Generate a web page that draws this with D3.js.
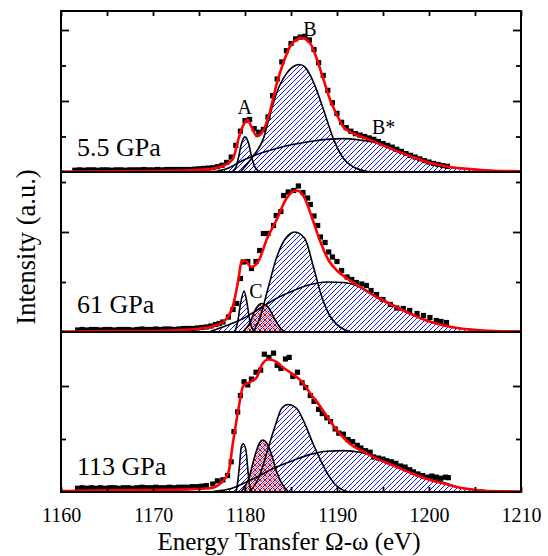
<!DOCTYPE html>
<html><head><meta charset="utf-8">
<script src="https://cdn.jsdelivr.net/npm/d3@7"></script>
<style>
html,body{margin:0;padding:0;background:#fff}
svg{display:block}
text{font-family:"Liberation Serif","Times New Roman",serif;fill:#000}
</style>
</head><body>
<svg id="chart" width="548" height="556"></svg>
<script>
// ---------------- data (energy eV, intensity a.u.) ----------------
const xDomain = [1160, 1210];
const xLabelTicks = [1160, 1170, 1180, 1190, 1200, 1210];
const xMinorTicks = [1165, 1175, 1185, 1195, 1205];
const panelNames = ["5.5 GPa", "61 GPa", "113 GPa"];

// 5.5 GPa
const data55 = [[1161.5,0.05],[1162,0.06],[1162.5,0.05],[1163,0.06],[1163.5,0.06],[1164,0.05],[1164.5,0.06],[1165,0.06],[1165.5,0.05],[1166,0.06],[1166.5,0.06],[1167,0.05],[1167.5,0.06],[1168,0.06],[1168.5,0.06],[1169,0.07],[1169.5,0.06],[1170,0.06],[1170.5,0.07],[1171,0.06],[1171.5,0.07],[1172,0.07],[1172.5,0.07],[1173,0.07],[1173.5,0.07],[1174,0.07],[1174.5,0.08],[1175,0.09],[1175.5,0.10],[1176,0.11],[1176.5,0.12],[1177,0.15],[1177.5,0.19],[1178,0.27],[1178.5,0.42],[1179,0.75],[1179.5,1.15],[1180,1.45],[1180.5,1.48],[1181,1.22],[1181.5,1.12],[1182,1.20],[1182.5,1.55],[1183,2.15],[1183.5,2.62],[1184,3.10],[1184.5,3.42],[1185,3.62],[1185.5,3.75],[1186,3.80],[1186.5,3.82],[1187,3.72],[1187.5,3.45],[1188,3.08],[1188.5,2.72],[1189,2.30],[1189.5,1.95],[1190,1.65],[1190.5,1.40],[1191,1.25],[1191.5,1.15],[1192,1.08],[1192.5,1.04],[1193,1.00],[1193.5,0.96],[1194,0.92],[1194.5,0.86],[1195,0.80],[1195.5,0.75],[1196,0.70],[1196.5,0.64],[1197,0.58],[1197.5,0.52],[1198,0.47],[1198.5,0.42],[1199,0.37],[1199.5,0.32],[1200,0.28],[1200.5,0.24],[1201,0.21],[1201.5,0.18],[1202,0.16]];
const fit55 = [[1160,0.01],[1165,0.02],[1170,0.03],[1174,0.05],[1176,0.08],[1177.6,0.17],[1178.7,0.38],[1179.3,0.94],[1179.8,1.31],[1180.3,1.46],[1180.7,1.27],[1181.3,1.01],[1182.0,1.17],[1182.7,1.69],[1183.4,2.44],[1184.2,3.10],[1185.1,3.62],[1186.2,3.77],[1187.1,3.62],[1187.8,3.19],[1188.5,2.63],[1189.2,2.07],[1190.0,1.60],[1190.7,1.27],[1191.8,1.08],[1193.2,0.94],[1195.0,0.75],[1196.8,0.56],[1198.7,0.38],[1200.5,0.23],[1202.3,0.14],[1204.5,0.08],[1206.6,0.04],[1210,0.02]];
const peakA55 = [[1178.5,0],[1179.0,0.12],[1179.3,0.42],[1179.6,0.78],[1180.0,0.99],[1180.4,0.80],[1180.7,0.45],[1181.0,0.18],[1181.4,0.04],[1181.8,0]];
const peakB55 = [[1179.5,0],[1179.8,0.09],[1180.9,0.45],[1182.0,0.94],[1182.7,1.60],[1183.4,2.20],[1184.5,2.77],[1185.3,2.98],[1185.9,3.03],[1186.5,2.96],[1187.1,2.72],[1187.8,2.30],[1188.5,1.78],[1189.1,1.31],[1189.6,0.94],[1190.7,0.38],[1191.8,0.14],[1193.2,0.02],[1194,0]];
const peakBs55 = [[1176.5,0],[1178.0,0.09],[1179.8,0.33],[1181.6,0.52],[1183.4,0.66],[1185.3,0.78],[1187.1,0.86],[1188.9,0.92],[1190.7,0.94],[1192.5,0.90],[1194.3,0.82],[1196.1,0.63],[1197.9,0.46],[1199.7,0.30],[1201.6,0.17],[1203.4,0.10],[1205.2,0.06],[1206.6,0.04],[1210,0.02]];

// 61 GPa
const data61 = [[1161.8,0.04],[1162.3,0.05],[1162.8,0.04],[1163.3,0.05],[1163.8,0.05],[1164.3,0.04],[1164.8,0.05],[1165.3,0.05],[1165.8,0.04],[1166.3,0.05],[1166.8,0.05],[1167.3,0.05],[1167.8,0.04],[1168.3,0.05],[1168.8,0.06],[1169.3,0.05],[1169.8,0.05],[1170.3,0.06],[1170.8,0.05],[1171.3,0.06],[1171.8,0.06],[1172.3,0.05],[1172.8,0.06],[1173.3,0.07],[1173.8,0.07],[1174.3,0.07],[1174.8,0.08],[1175.3,0.09],[1175.8,0.10],[1176.3,0.12],[1176.8,0.15],[1177.2,0.17],[1177.6,0.20],[1178.2,0.30],[1178.7,0.45],[1179.1,0.57],[1179.5,1.07],[1179.8,1.40],[1180.3,1.41],[1180.7,1.27],[1181.2,1.41],[1181.6,1.63],[1182.0,1.97],[1182.5,1.97],[1183.1,2.13],[1183.4,2.33],[1183.9,2.41],[1184.2,2.73],[1184.7,2.80],[1185.3,2.83],[1185.8,2.92],[1186.3,2.79],[1186.8,2.68],[1187.1,2.55],[1187.5,2.32],[1187.9,2.13],[1188.2,1.90],[1188.7,1.79],[1189.1,1.60],[1189.5,1.50],[1190.0,1.41],[1190.5,1.23],[1191.1,1.10],[1191.6,1.05],[1192.1,0.99],[1192.7,0.96],[1193.2,0.93],[1193.7,0.83],[1194.3,0.75],[1195.0,0.65],[1195.8,0.55],[1196.5,0.48],[1197.2,0.47],[1197.9,0.43],[1198.7,0.37],[1199.4,0.33],[1200.1,0.29],[1200.8,0.23],[1201.3,0.21],[1201.9,0.19]];
const fit61 = [[1160,0.01],[1165,0.02],[1170,0.02],[1174,0.05],[1176.2,0.10],[1177.6,0.20],[1178.7,0.53],[1179.3,1.07],[1179.6,1.39],[1180.0,1.43],[1180.7,1.30],[1181.5,1.43],[1182.4,1.87],[1183.4,2.23],[1184.5,2.67],[1185.6,2.83],[1186.5,2.67],[1187.2,2.33],[1188.2,1.80],[1189.1,1.43],[1190.0,1.23],[1191.1,1.07],[1192.5,0.90],[1194.3,0.70],[1196.1,0.53],[1197.9,0.37],[1199.7,0.23],[1201.6,0.13],[1203.4,0.07],[1205.9,0.03],[1210,0.01]];
const peakA61 = [[1178.9,0],[1179.2,0.20],[1179.5,0.55],[1179.9,0.82],[1180.2,0.60],[1180.5,0.25],[1180.8,0.06],[1181.1,0]];
const peakC61 = [[1179.8,0.01],[1180.5,0.17],[1181.2,0.47],[1181.8,0.57],[1182.5,0.50],[1183.2,0.27],[1183.9,0.07],[1184.4,0]];
const peakB61 = [[1180.9,0.01],[1181.6,0.27],[1182.5,0.87],[1183.4,1.47],[1184.4,1.87],[1185.4,2.00],[1186.5,1.87],[1187.4,1.33],[1188.3,0.73],[1189.2,0.33],[1190.3,0.10],[1191.4,0.01]];
const peakBs61 = [[1176.2,0.01],[1178.0,0.13],[1179.8,0.27],[1181.6,0.47],[1183.4,0.67],[1185.3,0.83],[1187.1,0.95],[1188.9,1.00],[1190.7,0.99],[1192.5,0.90],[1194.3,0.71],[1196.1,0.54],[1197.9,0.38],[1199.7,0.24],[1201.6,0.14],[1203.4,0.07],[1205.2,0.04],[1206.6,0.02],[1210,0.01]];

// 113 GPa
const data113 = [[1161.8,0.07],[1162.3,0.08],[1162.8,0.07],[1163.3,0.08],[1163.8,0.07],[1164.3,0.08],[1164.8,0.07],[1165.3,0.08],[1165.8,0.08],[1166.3,0.07],[1166.8,0.08],[1167.3,0.08],[1167.8,0.07],[1168.3,0.08],[1168.8,0.09],[1169.3,0.08],[1169.8,0.08],[1170.3,0.09],[1170.8,0.08],[1171.3,0.08],[1171.8,0.09],[1172.3,0.08],[1172.8,0.09],[1173.3,0.09],[1173.8,0.09],[1174.3,0.10],[1174.8,0.10],[1175.3,0.11],[1175.8,0.12],[1176.5,0.15],[1177.0,0.21],[1177.6,0.23],[1178.1,0.31],[1178.5,0.57],[1178.8,1.14],[1179.2,1.51],[1179.5,1.82],[1179.9,2.08],[1180.3,2.02],[1180.7,2.13],[1181.2,2.26],[1181.7,2.30],[1182.1,2.60],[1182.6,2.54],[1183.1,2.62],[1183.5,2.39],[1183.9,2.33],[1184.4,2.51],[1184.8,2.54],[1185.2,2.18],[1185.7,2.26],[1186.2,2.06],[1186.6,1.97],[1187.1,1.82],[1187.5,1.71],[1188.0,1.56],[1188.4,1.48],[1188.9,1.40],[1189.3,1.33],[1189.8,1.19],[1190.2,1.11],[1190.7,1.09],[1191.2,0.99],[1191.7,0.95],[1192.2,0.88],[1192.6,0.83],[1193.1,0.78],[1193.6,0.75],[1194.0,0.66],[1194.5,0.64],[1195.0,0.62],[1195.4,0.59],[1195.9,0.57],[1196.4,0.54],[1196.9,0.49],[1197.4,0.47],[1197.9,0.42],[1198.3,0.38],[1198.8,0.34],[1199.3,0.31],[1199.8,0.28],[1200.3,0.30],[1200.8,0.28],[1201.3,0.26],[1201.8,0.28],[1202.1,0.27]];
const fit113 = [[1160,0.02],[1165,0.03],[1170,0.04],[1174,0.05],[1176.2,0.07],[1177.3,0.16],[1178.2,0.37],[1178.7,0.94],[1179.3,1.58],[1179.8,2.00],[1180.5,2.07],[1181.3,2.17],[1181.8,2.39],[1182.5,2.50],[1183.3,2.47],[1184.2,2.34],[1185.3,2.21],[1186.2,2.08],[1187.1,1.86],[1188.2,1.61],[1189.2,1.35],[1190.3,1.10],[1191.4,0.91],[1192.9,0.76],[1194.3,0.63],[1196.1,0.50],[1197.9,0.37],[1199.7,0.25],[1201.6,0.16],[1203.7,0.07],[1206.3,0.02],[1210,0.01]];
const peakA113 = [[1179.0,0],[1179.1,0.06],[1179.4,0.50],[1179.6,0.85],[1179.8,0.91],[1180.1,0.79],[1180.3,0.44],[1180.5,0.12],[1180.8,0]];
const peakC113 = [[1179.6,0.01],[1180.4,0.25],[1181.1,0.70],[1181.6,0.93],[1181.9,0.98],[1182.4,0.91],[1182.9,0.70],[1183.4,0.40],[1184.0,0.16],[1184.7,0.01]];
const peakB113 = [[1180.5,0.01],[1181.6,0.31],[1182.4,0.76],[1183.3,1.26],[1184.0,1.58],[1184.7,1.65],[1185.6,1.58],[1186.5,1.29],[1187.4,0.91],[1188.3,0.57],[1189.2,0.28],[1190.1,0.09],[1191.1,0.01]];
const peakBs113 = [[1176.5,0.01],[1178.4,0.06],[1179.8,0.16],[1181.6,0.31],[1183.4,0.47],[1185.3,0.60],[1187.1,0.71],[1188.9,0.77],[1190.7,0.78],[1192.5,0.75],[1194.3,0.66],[1196.1,0.54],[1197.9,0.40],[1199.7,0.28],[1201.6,0.18],[1203.4,0.08],[1205.2,0.04],[1206.6,0.02],[1210,0.0]];

const yMajor = [[2,4],[2],[2]];
const yMinor = [[1,3],[1,3],[1]];

// peak labels: [panelIndex, text, energy, intensity, anchor]
const peakLabels = [[0,"A",1179.96,1.63,"middle"],[0,"B",1187.07,3.83,"middle"],[0,"B*",1193.8,1.08,"start"],[1,"C",1181.2,0.68,"middle"]];

// ---------------- layout ----------------
const L = 61, R = 521;
const panels = [
  {top: 11,  bottom: 172, ppu: 35.5, data: data55,  fit: fit55,  comps: [peakBs55, peakB55, peakA55], cross: null, labelDy: 16},
  {top: 172, bottom: 332, ppu: 50,   data: data61,  fit: fit61,  comps: [peakBs61, peakB61, peakA61], cross: peakC61, labelDy: 19},
  {top: 332, bottom: 492, ppu: 53,   data: data113, fit: fit113, comps: [peakBs113, peakB113, peakA113], cross: peakC113, labelDy: 17}
];

const svg = d3.select("#chart");
const x = d3.scaleLinear().domain(xDomain).range([L, R]);

const defs = svg.append("defs");
const hp = defs.append("pattern").attr("id","hatch").attr("patternUnits","userSpaceOnUse").attr("width",5).attr("height",5);
hp.append("path").attr("d","M-1,1 l2,-2 M0,5 l5,-5 M4,6 l2,-2").attr("stroke","#0000ff").attr("stroke-width",0.9).attr("fill","none");
const cp = defs.append("pattern").attr("id","cross").attr("patternUnits","userSpaceOnUse").attr("width",5).attr("height",5);
cp.append("path").attr("d","M-1,1 l2,-2 M0,5 l5,-5 M4,6 l2,-2").attr("stroke","#0000ff").attr("stroke-width",0.9).attr("fill","none");
cp.append("path").attr("d","M-1,4 l2,2 M0,0 l5,5 M4,-1 l2,2").attr("stroke","#ff0000").attr("stroke-width",0.9).attr("fill","none");
cp.append("path").attr("d","M-1,3.5 l4,-4 M2,5.5 l4,-4").attr("stroke","#ff0000").attr("stroke-width",0.8).attr("fill","none");

panels.forEach((p, i) => {
  const y = d3.scaleLinear().domain([0, (p.bottom - p.top) / p.ppu]).range([p.bottom, p.top]);
  defs.append("clipPath").attr("id","clip"+i).append("rect")
    .attr("x", L).attr("y", p.top).attr("width", R - L).attr("height", p.bottom - p.top + 1.5);
  const g = svg.append("g").attr("clip-path","url(#clip"+i+")");
  const area = d3.area().x(d => x(d[0])).y0(y(0)).y1(d => y(d[1])).curve(d3.curveMonotoneX);
  const line = d3.line().x(d => x(d[0])).y(d => y(d[1])).curve(d3.curveMonotoneX);

  p.comps.forEach(c => g.append("path").datum(c).attr("d", area).attr("fill","url(#hatch)"));
  if (p.cross) g.append("path").datum(p.cross).attr("d", area).attr("fill","url(#cross)");
  const outlines = p.cross ? p.comps.concat([p.cross]) : p.comps;
  outlines.forEach(c => g.append("path").datum(c).attr("d", line).attr("fill","none").attr("stroke","#000").attr("stroke-width",1.6));

  g.selectAll("rect.pt").data(p.data).enter().append("rect")
    .attr("x", d => x(d[0]) - 2.6).attr("y", d => y(d[1]) - 2.6)
    .attr("width", 5.2).attr("height", 5.2).attr("fill","#000");

  g.append("path").datum(p.fit).attr("d", line).attr("fill","none").attr("stroke","#ff0000").attr("stroke-width",2.6);

  // y ticks (inward, both sides)
  const yl1 = d3.axisLeft(y).tickValues(yMajor[i]).tickSize(-8).tickFormat("");
  const yl2 = d3.axisLeft(y).tickValues(yMinor[i]).tickSize(-5).tickFormat("");
  const yr1 = d3.axisRight(y).tickValues(yMajor[i]).tickSize(-8).tickFormat("");
  const yr2 = d3.axisRight(y).tickValues(yMinor[i]).tickSize(-5).tickFormat("");
  [[yl1,L],[yl2,L],[yr1,R],[yr2,R]].forEach(([ax,px]) => {
    const a = svg.append("g").attr("transform","translate("+px+",0)").call(ax);
    a.select(".domain").remove();
    a.selectAll("line").attr("stroke","#000").attr("stroke-width",1.8);
  });

  svg.append("text").attr("x", x(1161.74)).attr("y", p.bottom - p.labelDy)
    .attr("font-size", 26).text(panelNames[i]);

  peakLabels.filter(l => l[0] === i).forEach(l => {
    svg.append("text").attr("x", x(l[2])).attr("y", y(l[3])).attr("text-anchor", l[4])
      .attr("font-size", 20).text(l[1]);
  });
});

// x ticks
const xt = d3.axisTop(x).tickValues(xLabelTicks.concat(xMinorTicks)).tickSize(-5).tickFormat("");
const gt = svg.append("g").attr("transform","translate(0,11)").call(xt);
gt.select(".domain").remove();
gt.selectAll("line").attr("stroke","#000").attr("stroke-width",1.8);

const xbm = d3.axisBottom(x).tickValues(xMinorTicks).tickSize(-5).tickFormat("");
const gb2 = svg.append("g").attr("transform","translate(0,492)").call(xbm);
gb2.select(".domain").remove();
gb2.selectAll("line").attr("stroke","#000").attr("stroke-width",1.8);

const xb = d3.axisBottom(x).tickValues(xLabelTicks).tickSize(-5).tickPadding(16).tickFormat(d3.format("d"));
const gb = svg.append("g").attr("transform","translate(0,492)").call(xb);
gb.select(".domain").remove();
gb.selectAll("line").attr("stroke","#000").attr("stroke-width",1.8);
gb.selectAll("text").attr("font-size",20).attr("font-family",'"Liberation Serif","Times New Roman",serif').attr("fill","#000");

// frame
const frame = svg.append("g").attr("fill","none").attr("stroke","#000").attr("stroke-width",2);
frame.append("rect").attr("x", L).attr("y", 11).attr("width", R - L).attr("height", 492 - 11);
panels.slice(0, 2).forEach(p => frame.append("line").attr("x1", L).attr("x2", R).attr("y1", p.bottom).attr("y2", p.bottom));

// axis titles
svg.append("text").attr("x", 289).attr("y", 550).attr("text-anchor","middle").attr("font-size",25)
  .text("Energy Transfer \u03A9-\u03C9 (eV)");
svg.append("text").attr("transform","translate(35,247) rotate(-90)").attr("text-anchor","middle").attr("font-size",26.5)
  .text("Intensity (a.u.)");
</script>
</body></html>
